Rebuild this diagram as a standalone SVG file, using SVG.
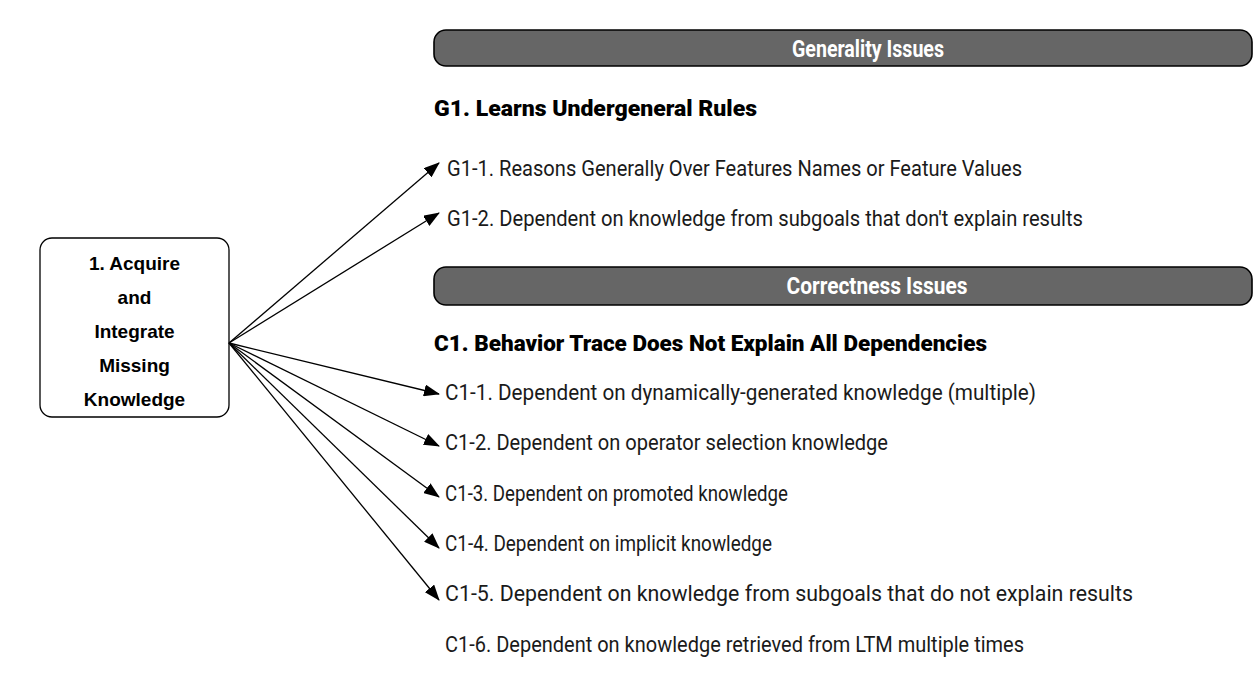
<svg xmlns="http://www.w3.org/2000/svg" width="1255" height="673" viewBox="0 0 1255 673">
  <style>
    .banner { fill: #666666; stroke: #000000; stroke-width: 1.6; }
    .banner-text { font-family: Roboto, "Liberation Sans", sans-serif; font-weight: bold; font-size: 24px; fill: #ffffff; text-anchor: middle; }
    .heading { font-family: Roboto, "Liberation Sans", sans-serif; font-weight: 900; font-size: 22px; fill: #000000; }
    .item { font-family: Roboto, "Liberation Sans", sans-serif; font-size: 22px; fill: #1a1a1a; }
    .box { fill: #ffffff; stroke: #000000; stroke-width: 1.3; }
    .box-text { font-family: "Liberation Sans", Arial, sans-serif; font-weight: bold; font-size: 19px; fill: #000000; text-anchor: middle; }
    .link { stroke: #000000; stroke-width: 1.3; fill: none; marker-end: url(#arrow); }
  </style>
  <defs>
    <marker id="arrow" viewBox="0 0 16 12" refX="15" refY="6" markerWidth="16" markerHeight="12" markerUnits="userSpaceOnUse" orient="auto">
      <path d="M0,0 L16,6 L0,12 Z" fill="#000000"/>
    </marker>
  </defs>

  <!-- Section banners -->
  <g id="generality-banner">
    <rect class="banner" x="434" y="30" width="818" height="36" rx="12" ry="12"/>
    <text class="banner-text" x="868" y="57" textLength="152" lengthAdjust="spacingAndGlyphs">Generality Issues</text>
  </g>
  <g id="correctness-banner">
    <rect class="banner" x="434" y="267" width="818" height="38" rx="12" ry="12"/>
    <text class="banner-text" x="877" y="294" textLength="181" lengthAdjust="spacingAndGlyphs">Correctness Issues</text>
  </g>

  <!-- Group headings -->
  <g id="g1-heading">
    <text class="heading" x="434" y="116" textLength="323" lengthAdjust="spacingAndGlyphs">G1. Learns Undergeneral Rules</text>
  </g>
  <g id="c1-heading">
    <text class="heading" x="434" y="351" textLength="553" lengthAdjust="spacingAndGlyphs">C1. Behavior Trace Does Not Explain All Dependencies</text>
  </g>

  <!-- Source node -->
  <g id="acquire-node">
    <rect class="box" x="40" y="238" width="189" height="179" rx="12" ry="12"/>
    <text class="box-text" x="134.5" y="270">1. Acquire</text>
    <text class="box-text" x="134.5" y="304">and</text>
    <text class="box-text" x="134.5" y="338">Integrate</text>
    <text class="box-text" x="134.5" y="372">Missing</text>
    <text class="box-text" x="134.5" y="406">Knowledge</text>
  </g>

  <!-- Issue items -->
  <g id="g1-1"><text class="item" x="447" y="176" textLength="575" lengthAdjust="spacingAndGlyphs">G1-1. Reasons Generally Over Features Names or Feature Values</text></g>
  <g id="g1-2"><text class="item" x="447" y="226" textLength="636" lengthAdjust="spacingAndGlyphs">G1-2. Dependent on knowledge from subgoals that don't explain results</text></g>
  <g id="c1-1"><text class="item" x="445" y="400" textLength="591" lengthAdjust="spacingAndGlyphs">C1-1. Dependent on dynamically-generated knowledge (multiple)</text></g>
  <g id="c1-2"><text class="item" x="445" y="450" textLength="443" lengthAdjust="spacingAndGlyphs">C1-2. Dependent on operator selection knowledge</text></g>
  <g id="c1-3"><text class="item" x="445" y="501" textLength="343" lengthAdjust="spacingAndGlyphs">C1-3. Dependent on promoted knowledge</text></g>
  <g id="c1-4"><text class="item" x="445" y="551" textLength="327" lengthAdjust="spacingAndGlyphs">C1-4. Dependent on implicit knowledge</text></g>
  <g id="c1-5"><text class="item" x="445" y="601" textLength="688" lengthAdjust="spacingAndGlyphs">C1-5. Dependent on knowledge from subgoals that do not explain results</text></g>
  <g id="c1-6"><text class="item" x="445" y="652" textLength="579" lengthAdjust="spacingAndGlyphs">C1-6. Dependent on knowledge retrieved from LTM multiple times</text></g>

  <!-- Connectors fanning out from the source node -->
  <g id="connectors">
    <line class="link" x1="229" y1="343" x2="439" y2="163"/>
    <line class="link" x1="229" y1="343" x2="439" y2="213"/>
    <line class="link" x1="229" y1="343" x2="439" y2="394"/>
    <line class="link" x1="229" y1="343" x2="439" y2="446"/>
    <line class="link" x1="229" y1="343" x2="439" y2="497"/>
    <line class="link" x1="229" y1="343" x2="439" y2="548"/>
    <line class="link" x1="229" y1="343" x2="439" y2="600"/>
  </g>
</svg>
